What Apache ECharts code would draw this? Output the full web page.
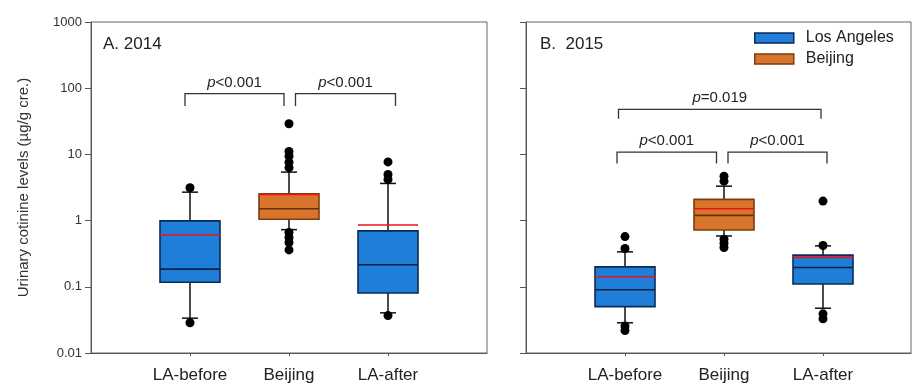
<!DOCTYPE html>
<html><head><meta charset="utf-8">
<script src="https://cdn.jsdelivr.net/npm/echarts@6/dist/echarts.min.js"></script>
<style>html,body{margin:0;padding:0;background:#fff}#c{width:912px;height:384px}</style>
</head><body><div id="c"></div>
<script>
// ---------------- data ----------------
const categories = ['LA-before', 'Beijing', 'LA-after'];
const cities = ['Los Angeles', 'Beijing'];
const catCity = ['Los Angeles', 'Beijing', 'Los Angeles'];
const panelTitles = ['A. 2014', 'B.  2015'];
const yTickValues = [0.01, 0.1, 1, 10, 100, 1000];
const yTitle = 'Urinary cotinine levels (µg/g cre.)';
// each box: [lower whisker, Q1, median, Q3, upper whisker, mean]
const box2014 = [
  [0.0336, 0.117, 0.185, 0.99, 2.69, 0.607],
  [0.73, 1.05, 1.51, 2.55, 5.4, 2.48],
  [0.0404, 0.0807, 0.215, 0.70, 3.64, 0.86]
];
const box2015 = [
  [0.0286, 0.0502, 0.0904, 0.20, 0.337, 0.142],
  [0.586, 0.72, 1.20, 2.09, 3.31, 1.51],
  [0.0475, 0.110, 0.196, 0.301, 0.415, 0.278]
];
const outliers2014 = [
  [3.13, 0.0286],
  [29, 11.1, 9.4, 7.6, 6.3, 0.66, 0.555, 0.467, 0.361],
  [7.7, 4.97, 4.18, 0.0367]
];
const outliers2015 = [
  [0.574, 0.379, 0.0255, 0.0219],
  [4.69, 3.94, 0.523, 0.456, 0.393],
  [1.97, 0.42, 0.039, 0.0328]
];
// brackets: [from category #, to category #, bar level, leg end level]
const brackets2014 = [[1, 2, 83, 54], [2, 3, 83, 54]];
const bracketLabels2014 = ['<0.001', '<0.001'];
const brackets2015 = [[1, 3, 48, 34.5], [1, 2, 10.8, 7.3], [2, 3, 10.8, 7.3]];
const bracketLabels2015 = ['=0.019', '<0.001', '<0.001'];

// ---------------- style ----------------
const FONT = 'Liberation Sans, Arial, sans-serif';
const palette = {
  'Los Angeles': { fill: '#1f7fd8', stroke: '#0c2b57', median: '#0b2048' },
  'Beijing': { fill: '#d8742c', stroke: '#7a3c12', median: '#6a2e0a' }
};
const meanColor = '#e8141c';
const bracketDx2014 = [[-5, -5], [6.5, 7.5]];
const bracketDx2015 = [[-6.5, -2], [-8, -7.5], [4, 4]];
const BOX_W = 60, CAP_W = 16;

const chart = echarts.init(document.getElementById('c'), null, { renderer: 'canvas' });

function xAxis(gridIndex, max) {
  return {
    type: 'value', gridIndex, min: 0, max,
    axisLine: { show: true, onZero: false, lineStyle: { color: '#555', width: 1 } },
    axisTick: { show: true, length: 3, customValues: [1, 2, 3], lineStyle: { color: '#555' } },
    axisLabel: {
      show: true, customValues: [1, 2, 3], margin: 14, fontSize: 17, color: '#222', fontFamily: FONT,
      formatter: v => categories[Math.round(v) - 1] || ''
    },
    splitLine: { show: false }
  };
}
function yAxis(gridIndex, showLabels) {
  return {
    type: 'log', logBase: 10, min: 0.01, max: 1000, splitNumber: 5, gridIndex,
    axisLine: { show: true, lineStyle: { color: '#555', width: 1 } },
    axisTick: { show: true, length: 6, lineStyle: { color: '#555' } },
    minorTick: { show: false }, splitLine: { show: false },
    axisLabel: {
      show: showLabels, fontSize: 13, color: '#333', margin: 9, fontFamily: FONT,
      formatter: v => String(+(+v).toPrecision(3))
    },
    name: showLabels ? yTitle : '', nameLocation: 'middle', nameGap: 60, nameRotate: 90,
    nameTextStyle: { fontSize: 15, color: '#333', fontFamily: FONT }
  };
}

function boxSeries(name, boxes, panel) {
  const data = [];
  boxes.forEach((b, i) => { if (catCity[i] === name) data.push([i + 1].concat(b)); });
  const pal = palette[name];
  return {
    type: 'custom', name, xAxisIndex: panel, yAxisIndex: panel, z: 2,
    itemStyle: { color: pal.fill, borderColor: pal.stroke },
    encode: { x: 0, y: [1, 2, 3, 4, 5, 6] },
    data,
    renderItem: function (params, api) {
      const x = api.value(0);
      const py = v => api.coord([x, v])[1];
      const cx = api.coord([x, api.value(3)])[0];
      const yLo = py(api.value(1)), yQ1 = py(api.value(2)), yMed = py(api.value(3));
      const yQ3 = py(api.value(4)), yHi = py(api.value(5)), yMean = py(api.value(6));
      const ls = { stroke: '#111', lineWidth: 1.5 };
      const l = (x1, y1, x2, y2, style) => ({ type: 'line', shape: { x1, y1, x2, y2 }, style });
      return {
        type: 'group', children: [
          l(cx, yLo, cx, yQ1, ls), l(cx, yQ3, cx, yHi, ls),
          l(cx - CAP_W / 2, yLo, cx + CAP_W / 2, yLo, ls),
          l(cx - CAP_W / 2, yHi, cx + CAP_W / 2, yHi, ls),
          { type: 'rect', shape: { x: cx - BOX_W / 2, y: yQ3, width: BOX_W, height: yQ1 - yQ3 },
            style: { fill: pal.fill, stroke: pal.stroke, lineWidth: 1.6 } },
          l(cx - BOX_W / 2, yMed, cx + BOX_W / 2, yMed, { stroke: pal.median, lineWidth: 1.6 }),
          l(cx - BOX_W / 2, yMean, cx + BOX_W / 2, yMean, { stroke: meanColor, lineWidth: 1.6 })
        ]
      };
    }
  };
}

function outlierSeries(outs, panel) {
  const data = [];
  outs.forEach((arr, i) => arr.forEach(v => data.push([i + 1, v])));
  return {
    type: 'scatter', xAxisIndex: panel, yAxisIndex: panel, z: 3,
    symbol: 'circle', symbolSize: 9, itemStyle: { color: '#000', opacity: 1 }, silent: true, data
  };
}

function bracketSeries(brs, labels, dxs, panel) {
  return {
    type: 'custom', xAxisIndex: panel, yAxisIndex: panel, z: 4, silent: true,
    encode: { x: [0, 1], y: [2, 3] },
    data: brs,
    renderItem: function (params, api) {
      const i = params.dataIndex;
      const a = api.coord([api.value(0), api.value(2)]);
      const b = api.coord([api.value(1), api.value(2)]);
      const yLeg = api.coord([api.value(0), api.value(3)])[1];
      const x1 = a[0] + dxs[i][0], x2 = b[0] + dxs[i][1], yTop = a[1];
      return {
        type: 'group', children: [
          { type: 'polyline', shape: { points: [[x1, yLeg], [x1, yTop], [x2, yTop], [x2, yLeg]] },
            style: { stroke: '#333', lineWidth: 1.3, fill: null } },
          { type: 'text', x: (x1 + x2) / 2, y: yTop - 11,
            style: { text: '{i|p}{n|' + labels[i] + '}', align: 'center', verticalAlign: 'middle',
              rich: { i: { fontStyle: 'italic', fontSize: 15, fill: '#222', fontFamily: FONT },
                      n: { fontSize: 15, fill: '#222', fontFamily: FONT } } } }
        ]
      };
    }
  };
}

const option = {
  animation: false,
  backgroundColor: '#fff',
  textStyle: { fontFamily: FONT },
  title: [
    { text: panelTitles[0], left: 98, top: 31, textStyle: { fontSize: 17, fontWeight: 'normal', color: '#222', fontFamily: FONT } },
    { text: panelTitles[1], left: 535, top: 31, textStyle: { fontSize: 17, fontWeight: 'normal', color: '#222', fontFamily: FONT } }
  ],
  legend: {
    orient: 'vertical', left: 754, top: 30, padding: 0, itemGap: 5,
    itemWidth: 39, itemHeight: 10, icon: 'rect',
    textStyle: { fontSize: 16, color: '#222', fontFamily: FONT, lineHeight: 16, padding: [0, 0, 0, 7] },
    data: cities.map(c => ({ name: c, itemStyle: { color: palette[c].fill, borderColor: palette[c].stroke, borderWidth: 1.5 } }))
  },
  grid: [
    { left: 91, top: 22, width: 396, height: 332, show: true, borderColor: '#666', borderWidth: 1, backgroundColor: 'transparent' },
    { left: 526, top: 22, width: 385, height: 332, show: true, borderColor: '#666', borderWidth: 1, backgroundColor: 'transparent' }
  ],
  xAxis: [xAxis(0, 4), xAxis(1, 385 / 99)],
  yAxis: [yAxis(0, true), yAxis(1, false)],
  series: [
    boxSeries('Los Angeles', box2014, 0), boxSeries('Beijing', box2014, 0),
    boxSeries('Los Angeles', box2015, 1), boxSeries('Beijing', box2015, 1),
    outlierSeries(outliers2014, 0), outlierSeries(outliers2015, 1),
    bracketSeries(brackets2014, bracketLabels2014, bracketDx2014, 0),
    bracketSeries(brackets2015, bracketLabels2015, bracketDx2015, 1)
  ]
};
chart.setOption(option);
</script>
</body></html>
